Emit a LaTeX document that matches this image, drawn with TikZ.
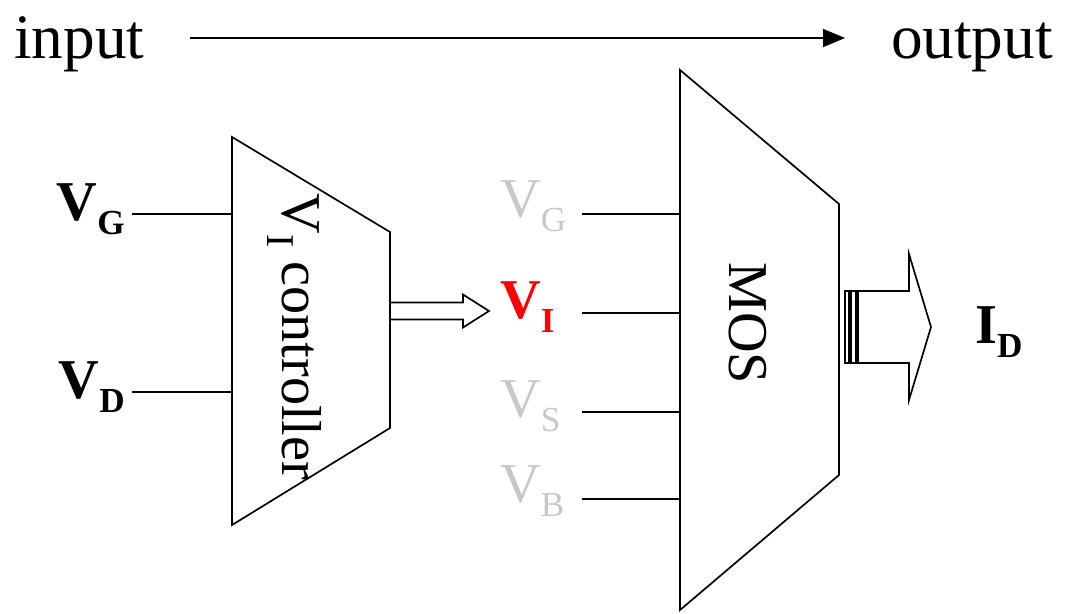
\documentclass[tikz,border=0pt]{standalone}
\usepackage{fontspec}
\setmainfont{Liberation Serif}
\usetikzlibrary{arrows.meta,calc}
\definecolor{pingray}{RGB}{200,200,200}
\definecolor{pinred}{RGB}{255,0,0}
\newcommand{\sigsub}[3][25]{#2\raisebox{-0.25em}{\fontsize{#1}{#1}\selectfont #3}}
\tikzset{
  big/.style={font=\fontsize{40}{48}\selectfont, inner sep=0pt},
  huge/.style={font=\fontsize{45}{54}\selectfont, inner sep=0pt},
  sig/.style={big, font=\fontsize{40}{48}\selectfont\bfseries},
  pin/.style={big, text=pingray},
  wire/.style={line width=1.2pt},
  block/.style={draw, line width=1.2pt, line join=miter},
  hollow/.style={draw, line width=1.2pt, line join=miter}
}

\begin{document}
\begin{tikzpicture}[x=0.025cm, y=-0.025cm]
  \useasboundingbox (0,0) rectangle (1065,613);

  % Top: signal flow
  \node[huge, anchor=base west] (inp) at (14,58) {input};
  \node[huge, anchor=base east] (outp) at (1053,58) {output};
  \coordinate (flowL) at (190,38);
  \coordinate (flowR) at (845,38);
  \draw[wire, -{Triangle[length=0.55cm, width=0.45cm]}] (flowL) -- (flowR);

  % V_I controller
  \coordinate (cTL) at (232,137);
  \coordinate (cTR) at (390,232);
  \coordinate (cBR) at (390,428);
  \coordinate (cBL) at (232,525);
  \draw[block] (cTL) -- (cTR) -- (cBR) -- (cBL) -- cycle;
  \node[big, rotate=-90, anchor=base] (ctl) at (282,337) {\sigsub[28]{V}{I} controller};

  \node[sig, anchor=base east] (vgL) at (125,220) {\sigsub{V}{G}};
  \node[sig, anchor=base east] (vdL) at (125,398) {\sigsub{V}{D}};
  \coordinate (cG) at (232,214);
  \coordinate (cD) at (232,392);
  \draw[wire] (cG) -- ++(-100,0);
  \draw[wire] (cD) -- ++(-100,0);

  % controller output -> V_I
  \coordinate (cOut) at (390,311);
  \draw[hollow] (cOut) ++(0,-8.5) -- ++(73,0) -- ++(0,-8) -- ++(26,16.5)
        -- ++(-26,16.5) -- ++(0,-8) -- ++(-73,0);

  % MOS
  \coordinate (mTL) at (680,70);
  \coordinate (mTR) at (839,204);
  \coordinate (mBR) at (839,475);
  \coordinate (mBL) at (680,610);
  \draw[block] (mTL) -- (mTR) -- (mBR) -- (mBL) -- cycle;
  \node[big, rotate=-90, anchor=base] (mos) at (729,323) {MOS};

  \node[pin, anchor=base west] (pG) at (500,217) {\sigsub{V}{G}};
  \node[sig, text=pinred, anchor=base west] (pI) at (500,318) {\sigsub{V}{I}};
  \node[pin, anchor=base west] (pS) at (500,417) {\sigsub{V}{S}};
  \node[pin, anchor=base west] (pB) at (500,502) {\sigsub{V}{B}};
  \coordinate (mG) at (680,214);
  \coordinate (mI) at (680,313);
  \coordinate (mS) at (680,412);
  \coordinate (mB) at (680,499);
  \foreach \p in {mG,mI,mS,mB}
    \draw[wire] (\p) -- ++(-98,0);

  % MOS output -> I_D
  \coordinate (mOut) at (839,327);
  \draw[hollow] ($(mOut)+(6,-36)$) rectangle ++(4,72);
  \draw[hollow] ($(mOut)+(12,-36)$) rectangle ++(5,72);
  \draw[hollow] ($(mOut)+(19,-36)$) -- ++(51,0) -- ++(0,-37) -- ++(22,73)
        -- ++(-22,73) -- ++(0,-37) -- ++(-51,0) -- cycle;
  \node[sig, anchor=base west] (idL) at (975,343) {\sigsub{I}{D}};
\end{tikzpicture}
\end{document}
